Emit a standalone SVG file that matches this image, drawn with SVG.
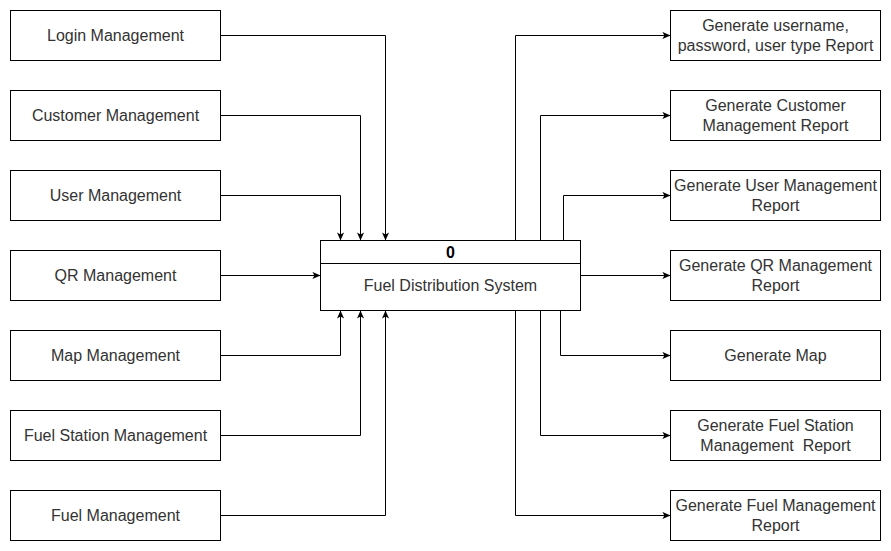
<svg xmlns="http://www.w3.org/2000/svg" width="891" height="551" viewBox="0 0 891 551">
<defs>
<style>
.box{fill:#ffffff;stroke:#000000;stroke-width:1}
.lbl{font-family:"Liberation Sans",Arial,sans-serif;font-size:16px;fill:#333333;text-anchor:middle}
.bold{font-weight:bold;fill:#000000}
.edge{fill:none;stroke:#000000;stroke-width:1}
</style>
<marker id="arr" viewBox="0 0 10 10" refX="9.5" refY="5" markerWidth="8" markerHeight="8" markerUnits="userSpaceOnUse" orient="auto">
<path d="M0,0.5 L10,5 L0,9.5 L2.5,5 Z" fill="#000000"/>
</marker>
</defs>
<rect width="891" height="551" fill="#ffffff"/>
<g id="connectors">
<path class="edge" marker-end="url(#arr)" d="M220.5,35.5 H385.5 V240"/>
<path class="edge" marker-end="url(#arr)" d="M220.5,115.5 H360.5 V240"/>
<path class="edge" marker-end="url(#arr)" d="M220.5,195.5 H340.5 V240"/>
<path class="edge" marker-end="url(#arr)" d="M220.5,275.5 H320"/>
<path class="edge" marker-end="url(#arr)" d="M220.5,355.5 H340.5 V311"/>
<path class="edge" marker-end="url(#arr)" d="M220.5,435.5 H360.5 V311"/>
<path class="edge" marker-end="url(#arr)" d="M220.5,515.5 H385.5 V311"/>
<path class="edge" marker-end="url(#arr)" d="M515.5,240.5 V35.5 H670"/>
<path class="edge" marker-end="url(#arr)" d="M540.5,240.5 V115.5 H670"/>
<path class="edge" marker-end="url(#arr)" d="M563.5,240.5 V195.5 H670"/>
<path class="edge" marker-end="url(#arr)" d="M580.5,275.5 H670"/>
<path class="edge" marker-end="url(#arr)" d="M560.5,310.5 V355.5 H670"/>
<path class="edge" marker-end="url(#arr)" d="M540.5,310.5 V435.5 H670"/>
<path class="edge" marker-end="url(#arr)" d="M515.5,310.5 V515.5 H670"/>
</g>
<g id="login"><rect class="box" x="10.5" y="10.5" width="210" height="50"/><text class="lbl" x="115.5" y="41">Login Management</text></g>
<g id="customer"><rect class="box" x="10.5" y="90.5" width="210" height="50"/><text class="lbl" x="115.5" y="121">Customer Management</text></g>
<g id="user"><rect class="box" x="10.5" y="170.5" width="210" height="50"/><text class="lbl" x="115.5" y="201">User Management</text></g>
<g id="qr"><rect class="box" x="10.5" y="250.5" width="210" height="50"/><text class="lbl" x="115.5" y="281">QR Management</text></g>
<g id="map"><rect class="box" x="10.5" y="330.5" width="210" height="50"/><text class="lbl" x="115.5" y="361">Map Management</text></g>
<g id="fuelstation"><rect class="box" x="10.5" y="410.5" width="210" height="50"/><text class="lbl" x="115.5" y="441">Fuel Station Management</text></g>
<g id="fuel"><rect class="box" x="10.5" y="490.5" width="210" height="50"/><text class="lbl" x="115.5" y="521">Fuel Management</text></g>
<g id="system">
<rect class="box" x="320.5" y="240.5" width="260" height="70"/>
<line class="edge" x1="320.5" y1="263.5" x2="580.5" y2="263.5"/>
<text class="lbl bold" x="450.5" y="258">0</text>
<text class="lbl" x="450.5" y="291">Fuel Distribution System</text>
</g>
<g id="r1"><rect class="box" x="670.5" y="10.5" width="210" height="50"/><text class="lbl" x="775.5" y="31">Generate username,</text><text class="lbl" x="775.5" y="51">password, user type Report</text></g>
<g id="r2"><rect class="box" x="670.5" y="90.5" width="210" height="50"/><text class="lbl" x="775.5" y="111">Generate Customer</text><text class="lbl" x="775.5" y="131">Management Report</text></g>
<g id="r3"><rect class="box" x="670.5" y="170.5" width="210" height="50"/><text class="lbl" x="775.5" y="191">Generate User Management</text><text class="lbl" x="775.5" y="211">Report</text></g>
<g id="r4"><rect class="box" x="670.5" y="250.5" width="210" height="50"/><text class="lbl" x="775.5" y="271">Generate QR Management</text><text class="lbl" x="775.5" y="291">Report</text></g>
<g id="r5"><rect class="box" x="670.5" y="330.5" width="210" height="50"/><text class="lbl" x="775.5" y="361">Generate Map</text></g>
<g id="r6"><rect class="box" x="670.5" y="410.5" width="210" height="50"/><text class="lbl" x="775.5" y="431">Generate Fuel Station</text><text class="lbl" x="775.5" y="451" xml:space="preserve">Management  Report</text></g>
<g id="r7"><rect class="box" x="670.5" y="490.5" width="210" height="50"/><text class="lbl" x="775.5" y="511">Generate Fuel Management</text><text class="lbl" x="775.5" y="531">Report</text></g>
</svg>
